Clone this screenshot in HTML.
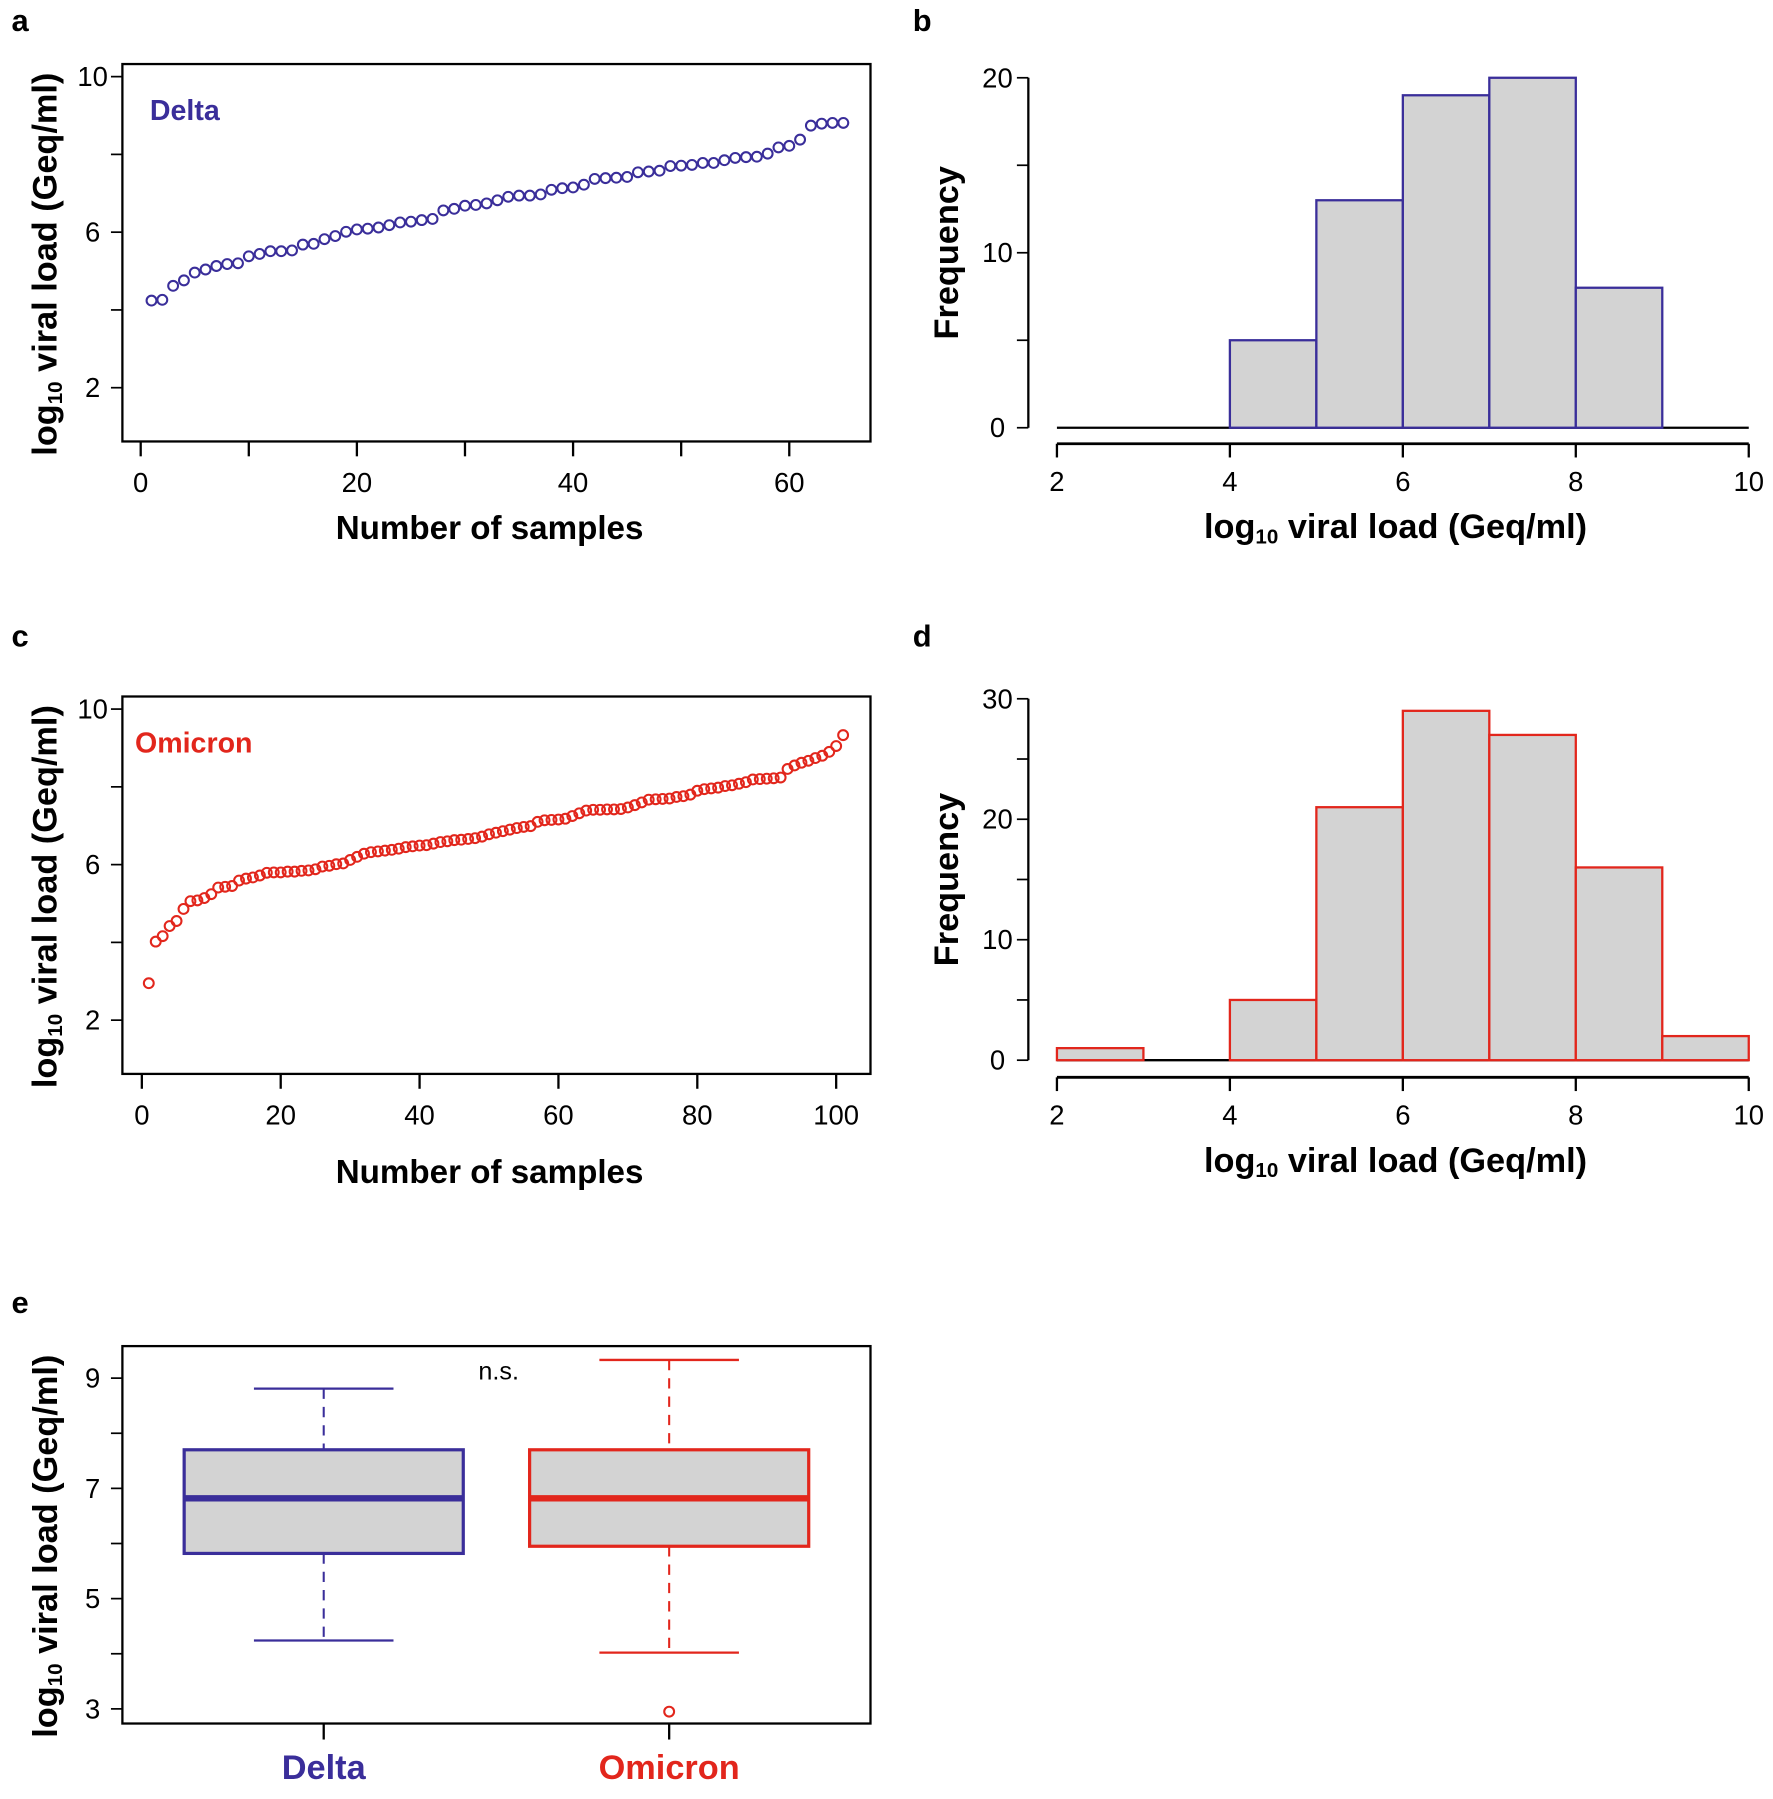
<!DOCTYPE html>
<html><head><meta charset="utf-8"><style>
html,body{margin:0;padding:0;background:#fff}
svg{display:block}
text{font-family:"Liberation Sans",sans-serif}
</style></head><body>
<svg id="fig" width="1773" height="1799" viewBox="0 0 1550 1573" preserveAspectRatio="none" xmlns="http://www.w3.org/2000/svg"></svg>
<script>
const deltaValues = [4.24,4.26,4.62,4.76,4.96,5.04,5.13,5.18,5.20,5.38,5.44,5.51,5.51,5.53,5.68,5.70,5.82,5.90,6.01,6.07,6.09,6.12,6.18,6.25,6.27,6.31,6.34,6.56,6.60,6.68,6.70,6.74,6.82,6.91,6.94,6.94,6.97,7.09,7.13,7.15,7.22,7.37,7.39,7.40,7.42,7.54,7.56,7.58,7.70,7.71,7.73,7.78,7.78,7.85,7.91,7.93,7.94,8.02,8.18,8.22,8.38,8.74,8.79,8.81,8.81];
const omicronValues = [2.95,4.02,4.16,4.42,4.55,4.86,
5.06,5.08,5.14,5.24,5.41,5.43,5.45,5.59,5.64,5.67,5.72,5.79,5.80,5.80,5.82,5.82,5.84,5.85,5.88,5.95,5.97,
6.01,6.03,6.12,6.20,6.28,6.32,6.34,6.36,6.38,6.41,6.45,6.47,6.49,6.50,6.54,6.58,6.60,6.63,6.64,6.66,6.68,6.72,6.78,6.82,6.86,6.90,6.94,6.97,6.99,
7.10,7.14,7.15,7.16,7.18,7.25,7.32,7.39,7.41,7.41,7.42,7.42,7.43,7.47,7.53,7.60,7.67,7.68,7.69,7.70,7.74,7.76,7.80,7.90,7.94,7.96,7.98,
8.02,8.04,8.08,8.12,8.19,8.20,8.21,8.22,8.24,8.46,8.55,8.62,8.67,8.74,8.80,8.90,
9.05,9.33];
const histBreaks = [2,3,4,5,6,7,8,9,10];
const groupNames = ["Delta","Omicron"];
const scatterYTicks = [2,4,6,8,10];
const scatterYLabels = ["2","","6","","10"];
const deltaXTicks = [0,10,20,30,40,50,60];
const deltaXLabels = ["0","","20","","40","","60"];
const omicronXTicks = [0,20,40,60,80,100];
const histXTicks = [2,4,6,8,10];
const histBTicks = [0,5,10,15,20];
const histBLabels = ["0","","10","","20"];
const histDTicks = [0,5,10,15,20,25,30];
const histDLabels = ["0","","10","","20","","30"];
const boxYTicks = [3,4,5,6,7,8,9];
const boxYLabels = ["3","","5","","7","","9"];

const BLUE="#3a2e9a", RED="#e2261c", GRAY="#d3d3d3";
const svg=document.getElementById('fig');
const NS="http://www.w3.org/2000/svg";
function mk(tag,attrs,parent){const e=document.createElementNS(NS,tag);for(const k in attrs)e.setAttribute(k,attrs[k]);(parent||svg).appendChild(e);return e;}
function txt(s,x,y,size,opts,parent){opts=opts||{};const t=mk('text',{x:x,y:y,'font-size':size,'text-anchor':opts.anchor||'middle','dominant-baseline':'central',fill:opts.fill||'#000','font-weight':opts.bold?'bold':'normal'},parent);if(opts.rot)t.setAttribute('transform','rotate(-90 '+x+' '+y+')');t.textContent=s;return t;}
function logTitle(x,y,rot,parent){
  const t=mk('text',{x:x,y:y,'font-size':30,'text-anchor':'middle','dominant-baseline':'central','font-weight':'bold'},parent);
  if(rot)t.setAttribute('transform','rotate(-90 '+x+' '+y+')');
  const a=document.createElementNS(NS,'tspan');a.textContent='log';t.appendChild(a);
  const b=document.createElementNS(NS,'tspan');b.setAttribute('font-size','18');b.setAttribute('dy','8');b.textContent='10';t.appendChild(b);
  const c=document.createElementNS(NS,'tspan');c.setAttribute('dy','-8');c.textContent=' viral load (Geq/ml)';t.appendChild(c);
  return t;
}
function counts(vals){const c=[];for(let i=0;i<histBreaks.length-1;i++){c.push(vals.filter(v=>(i===0?v>=histBreaks[i]:v>histBreaks[i])&&v<=histBreaks[i+1]).length);}return c;}

function scatter(name,letter,letterY,vals,color,top,xt,xl,x0,xPer,label,labelX){
  const g=mk('g',{});
  
  
  const L=107,R=761,T=top,B=top+330;
  const yv=v=>top+11+(10-v)*34;
  const xv=i=>x0+xPer*i;
  txt(letter,10,letterY,27,{bold:true,anchor:'start'},g);
  mk('rect',{x:L,y:T,width:R-L,height:B-T,fill:'none',stroke:'#000','stroke-width':2},g);
  scatterYTicks.forEach((v,i)=>{mk('line',{x1:L-10,x2:L,y1:yv(v),y2:yv(v),stroke:'#000','stroke-width':1.5},g);if(scatterYLabels[i])txt(scatterYLabels[i],L-26,yv(v),24,{},g);});
  xt.forEach((v,i)=>{mk('line',{x1:xv(v),x2:xv(v),y1:B,y2:B+13,stroke:'#000','stroke-width':2},g);if(xl[i])txt(xl[i],xv(v),B+36,24,{},g);});
  vals.forEach((v,i)=>{const c=mk('circle',{cx:xv(i+1),cy:yv(v),r:4.3,fill:'none',stroke:color,'stroke-width':1.8},g);
    
    });
  const lb=txt(label,labelX,top+41,25,{bold:true,fill:color,anchor:'start'},g);
  
  
  const yt=logTitle(40,top+175,true,g);
  
  
  return {g,B};
}
const pa=scatter('panel-a-delta-scatter','a',18,deltaValues,BLUE,56,deltaXTicks,deltaXLabels,123,9.45,'Delta',131);
const ta=txt('Number of samples',428,462,29,{bold:true},pa.g);


const pc=scatter('panel-c-omicron-scatter','c',556,omicronValues,RED,609,omicronXTicks,omicronXTicks.map(String),124,6.07,'Omicron',118);
const tc=txt('Number of samples',428,1025,29,{bold:true},pc.g);



function hist(name,letter,letterY,vals,color,top,base,maxY,yt,yl,axisY){
  const g=mk('g',{});
  
  
  const yPer=(base-top)/maxY;
  const yv=v=>base-v*yPer;
  const xv=v=>924+(v-2)*75.6;
  txt(letter,798,letterY,27,{bold:true,anchor:'start'},g);
  mk('line',{x1:899,x2:899,y1:yv(maxY),y2:base,stroke:'#000','stroke-width':2},g);
  yt.forEach((v,i)=>{mk('line',{x1:889,x2:899,y1:yv(v),y2:yv(v),stroke:'#000','stroke-width':1.5},g);if(yl[i])txt(yl[i],872,yv(v),24,{},g);});
  mk('line',{x1:xv(2),x2:xv(10),y1:axisY,y2:axisY,stroke:'#000','stroke-width':2.5},g);
  histXTicks.forEach(v=>{mk('line',{x1:xv(v),x2:xv(v),y1:axisY,y2:axisY+12,stroke:'#000','stroke-width':2},g);txt(String(v),xv(v),axisY+33,24,{},g);});
  mk('line',{x1:xv(2),x2:xv(10),y1:base,y2:base,stroke:'#000','stroke-width':2},g);
  const c=counts(vals);
  c.forEach((n,i)=>{if(n>0){const r=mk('rect',{x:xv(histBreaks[i]),y:yv(n),width:xv(histBreaks[i+1])-xv(histBreaks[i]),height:n*yPer,fill:GRAY,stroke:color,'stroke-width':2},g);
    
    }});
  const ft=txt('Frequency',828,(yv(maxY)+base)/2,30,{bold:true,rot:true},g);
  
  
  const xt=logTitle(1220,axisY+73,false,g);
  
  
}
hist('panel-b-delta-histogram','b',18,deltaValues,BLUE,68,374,20,histBTicks,histBLabels,388);
hist('panel-d-omicron-histogram','d',556,omicronValues,RED,611,927,30,histDTicks,histDLabels,942);

function stats(vals){const s=[...vals].sort((a,b)=>a-b);const n=s.length;
  const nn=Math.floor((n+3)/2)/2;const d=[1,nn,(n+1)/2,n+1-nn,n];
  const f=d.map(x=>0.5*(s[Math.floor(x)-1]+s[Math.ceil(x)-1]));
  const iqr=f[3]-f[1];const lo=f[1]-1.5*iqr,hi=f[3]+1.5*iqr;
  const inside=s.filter(v=>v>=lo&&v<=hi);
  return {q1:f[1],med:f[2],q3:f[3],wlo:inside[0],whi:inside[inside.length-1],out:s.filter(v=>v<lo||v>hi)};}
(function(){
  const g=mk('g',{});
  
  
  const L=107,R=761,T=1177,B=1507;
  const yv=v=>1205+(9-v)*48.2;
  txt('e',10,1139,27,{bold:true,anchor:'start'},g);
  mk('rect',{x:L,y:T,width:R-L,height:B-T,fill:'none',stroke:'#000','stroke-width':2},g);
  boxYTicks.forEach((v,i)=>{mk('line',{x1:L-10,x2:L,y1:yv(v),y2:yv(v),stroke:'#000','stroke-width':1.5},g);if(boxYLabels[i])txt(boxYLabels[i],L-26,yv(v),24,{},g);});
  const centers=[283,585], colors=[BLUE,RED], sets=[deltaValues,omicronValues];
  sets.forEach((vals,i)=>{
    const s=stats(vals),cx=centers[i],col=colors[i];
    const bg=mk('g',{},g);
    
    
    mk('line',{x1:cx,x2:cx,y1:yv(s.whi),y2:yv(s.q3),stroke:col,'stroke-width':1.8,'stroke-dasharray':'9,7'},bg);
    mk('line',{x1:cx,x2:cx,y1:yv(s.q1),y2:yv(s.wlo),stroke:col,'stroke-width':1.8,'stroke-dasharray':'9,7'},bg);
    mk('line',{x1:cx-61,x2:cx+61,y1:yv(s.whi),y2:yv(s.whi),stroke:col,'stroke-width':2},bg);
    mk('line',{x1:cx-61,x2:cx+61,y1:yv(s.wlo),y2:yv(s.wlo),stroke:col,'stroke-width':2},bg);
    mk('rect',{x:cx-122,y:yv(s.q3),width:244,height:yv(s.q1)-yv(s.q3),fill:GRAY,stroke:col,'stroke-width':2.8},bg);
    mk('line',{x1:cx-122,x2:cx+122,y1:yv(s.med),y2:yv(s.med),stroke:col,'stroke-width':5.5},bg);
    s.out.forEach(v=>{const o=mk('circle',{cx:cx,cy:yv(v),r:4.3,fill:'none',stroke:col,'stroke-width':1.8},bg);
      
      });
    mk('line',{x1:cx,x2:cx,y1:B,y2:B+14,stroke:'#000','stroke-width':2},g);
    const lb=txt(groupNames[i],cx,B+39,30,{bold:true,fill:col},g);
    
    
  });
  const ns=txt('n.s.',436,1199,22,{},g);
  
  
  const yt=logTitle(40,1352,true,g);
  
  
})();
</script>
</body></html>
